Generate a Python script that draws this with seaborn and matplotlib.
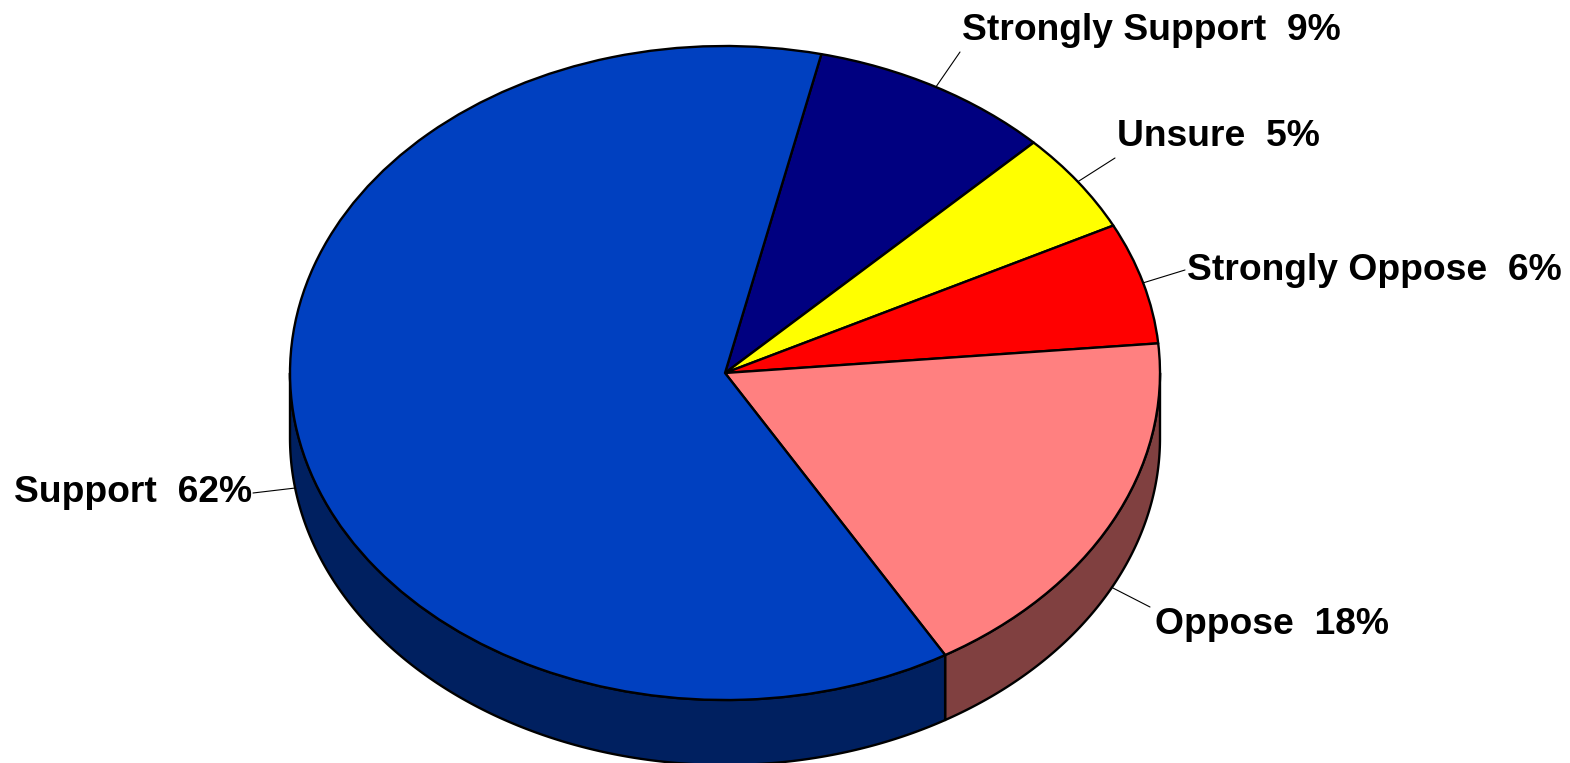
import numpy as np
import matplotlib
matplotlib.use("Agg")
import matplotlib.pyplot as plt
import seaborn as sns
from matplotlib.patches import Polygon

# ---------------- data ----------------
categories = ["Strongly Support", "Unsure", "Strongly Oppose", "Oppose", "Support"]
values = [9, 5, 6, 18, 62]
top_colors = ["#000080", "#FFFF00", "#FF0000", "#FF8080", "#0040C0"]
side_colors = ["#000040", "#808000", "#800000", "#804040", "#002060"]

# ---------------- layout ----------------
W, H = 1570, 763
CX, CY, RX, RY, DEPTH = 725, 373, 435, 327, 65
START = 77.2
label_pos = [(962, 30), (1117, 137), (1187, 270), (1155, 624), (252, 492)]
label_ha = ["left", "left", "left", "left", "right"]
leader_end = [(960, 52), (1115, 158), (1185, 270), (1150, 607), (253, 493)]

sns.set_theme(style="white")
plt.rcParams["font.family"] = ["Liberation Sans", "DejaVu Sans"]

fig = plt.figure(figsize=(W / 100, H / 100), dpi=100)
ax = fig.add_axes([0, 0, 1, 1])
depth = DEPTH / RY


def px(p):
    return ((p[0] - CX) / RX, (CY - p[1]) / RY)


total = float(sum(values))
spans = []
cur = START
for v in values:
    span = 360.0 * v / total
    spans.append((cur - span, cur))
    cur -= span

# side walls (visible lower half)
for (a_lo, a_hi), sc in zip(spans, side_colors):
    for k in range(-2, 3):
        lo = max(a_lo, -180 + 360 * k)
        hi = min(a_hi, 360 * k)
        if hi - lo <= 1e-6:
            continue
        t = np.radians(np.linspace(lo, hi, 300))
        xs = np.cos(t)
        ys = np.sin(t)
        pts = np.concatenate([np.column_stack([xs, ys]),
                              np.column_stack([xs[::-1], ys[::-1] - depth])])
        ax.add_patch(Polygon(pts, closed=True, facecolor=sc, edgecolor="black",
                             linewidth=1.7, zorder=0.5, joinstyle="round"))

# top face
ax.pie(values, colors=top_colors, startangle=START, counterclock=False,
       radius=1, center=(0, 0), frame=True,
       wedgeprops=dict(edgecolor="black", linewidth=1.7, joinstyle="round"))

# labels and leader lines
for (a_lo, a_hi), cat, v, lp, ha, le in zip(spans, categories, values,
                                            label_pos, label_ha, leader_end):
    m = np.radians((a_lo + a_hi) / 2)
    x0, y0 = np.cos(m), np.sin(m)
    if y0 < 0:
        y0 -= depth
    x1, y1 = px(le)
    ax.plot([x0, x1], [y0, y1], color="black", linewidth=0.8, zorder=3)
    tx, ty = px(lp)
    ax.text(tx, ty, f"{cat}  {v}%", ha=ha, va="center", fontsize=26.8,
            fontweight="bold", color="black", zorder=4)

ax.set_aspect("auto")
ax.set_xlim((0 - CX) / RX, (W - CX) / RX)
ax.set_ylim((CY - H) / RY, CY / RY)
ax.axis("off")

fig.savefig("out.png", dpi=100, facecolor="white")
